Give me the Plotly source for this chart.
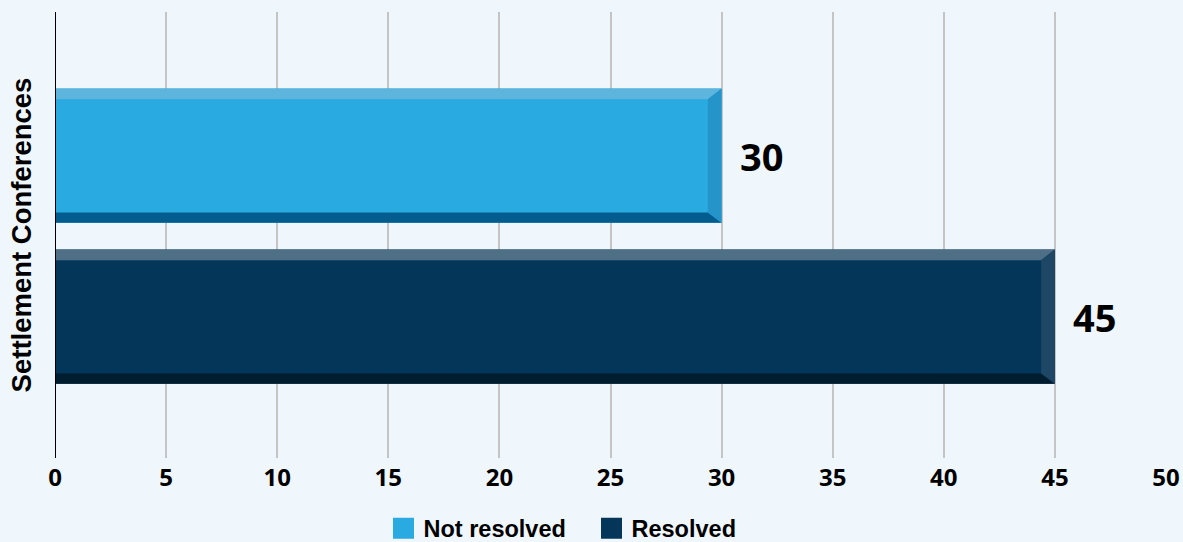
import plotly.graph_objects as go

# ---- data ----
categories = ["Settlement Conferences"]
series_names = ["Not resolved", "Resolved"]
not_resolved = [30]
resolved = [45]
x_ticks = [0, 5, 10, 15, 20, 25, 30, 35, 40, 45, 50]

# ---- styling ----
main_colors = ["#29aae1", "#033659"]
top_colors = ["#5db4dc", "#4e6f86"]
right_colors = ["#2594c8", "#1e4766"]
bottom_colors = ["#025c8e", "#001d30"]
centers = [0.178, -0.183]      # vertical placement of each series within the category band
bar_w = 0.301
top_h = 0.024
bot_h = 0.023
bevel_dx = 0.62
BG = "#f0f7fc"

fig = go.Figure()
series_values = [not_resolved, resolved]

for i, (name, vals) in enumerate(zip(series_names, series_values)):
    v = vals[0]
    c = centers[i]
    fig.add_trace(go.Bar(
        x=[v], y=[c], width=[bar_w], orientation="h", name=name,
        marker=dict(color=main_colors[i], line=dict(width=0)),
        showlegend=False, hoverinfo="x+name",
    ))
    top = c + bar_w / 2
    bot = c - bar_w / 2
    # top bevel
    fig.add_trace(go.Scatter(
        x=[0, v, v - bevel_dx, 0, 0], y=[top, top, top - top_h, top - top_h, top],
        mode="lines", fill="toself", fillcolor=top_colors[i], line=dict(width=0),
        showlegend=False, hoverinfo="skip"))
    # bottom bevel
    fig.add_trace(go.Scatter(
        x=[0, v, v - bevel_dx, 0, 0], y=[bot, bot, bot + bot_h, bot + bot_h, bot],
        mode="lines", fill="toself", fillcolor=bottom_colors[i], line=dict(width=0),
        showlegend=False, hoverinfo="skip"))
    # right bevel
    fig.add_trace(go.Scatter(
        x=[v, v, v - bevel_dx, v - bevel_dx, v], y=[top, bot, bot + bot_h, top - top_h, top],
        mode="lines", fill="toself", fillcolor=right_colors[i], line=dict(width=0),
        showlegend=False, hoverinfo="skip"))
    # legend entry
    fig.add_trace(go.Scatter(
        x=[None], y=[None], mode="markers", name=name,
        marker=dict(symbol="square", size=16, color=main_colors[i],
                    line=dict(width=5, color=main_colors[i])),
        showlegend=True))
    fig.add_annotation(
        x=v, y=c, text=f"<b>{v}</b>", showarrow=False, xanchor="left", yanchor="middle",
        xshift=16, font=dict(family="Open Sans", size=38, color="#000000"))

fig.update_layout(
    width=1183, height=542,
    margin=dict(l=55, r=17, t=12, b=84),
    paper_bgcolor=BG, plot_bgcolor=BG,
    showlegend=True,
    legend=dict(orientation="h", x=0.5, xanchor="center", xref="container",
                y=0.025, yanchor="middle", yref="container", entrywidth=163,
                font=dict(family="Liberation Sans", size=23.5, color="#000000", weight="bold"),
                bgcolor="rgba(0,0,0,0)", traceorder="normal"),
    xaxis=dict(range=[0, 50], tickvals=x_ticks, automargin=False,
               showgrid=True, gridcolor="#c4c4c4", gridwidth=2, zeroline=False,
               showline=False, ticks="", ticklabelstandoff=3,
               tickfont=dict(family="Open Sans", size=24, color="#000000", weight="bold")),
    yaxis=dict(range=[-0.5, 0.5], showgrid=False, zeroline=False, showticklabels=False,
               showline=False, ticks="", automargin=False,
               title=dict(text=categories[0], standoff=14,
                          font=dict(family="Liberation Sans", size=27.5, color="#000000",
                                    weight="bold"))),
    shapes=[dict(type="line", xref="x", yref="paper", x0=0, x1=0, y0=0, y1=1,
                 line=dict(color="#000000", width=2), layer="above")],
)

fig.write_html("out.html")
